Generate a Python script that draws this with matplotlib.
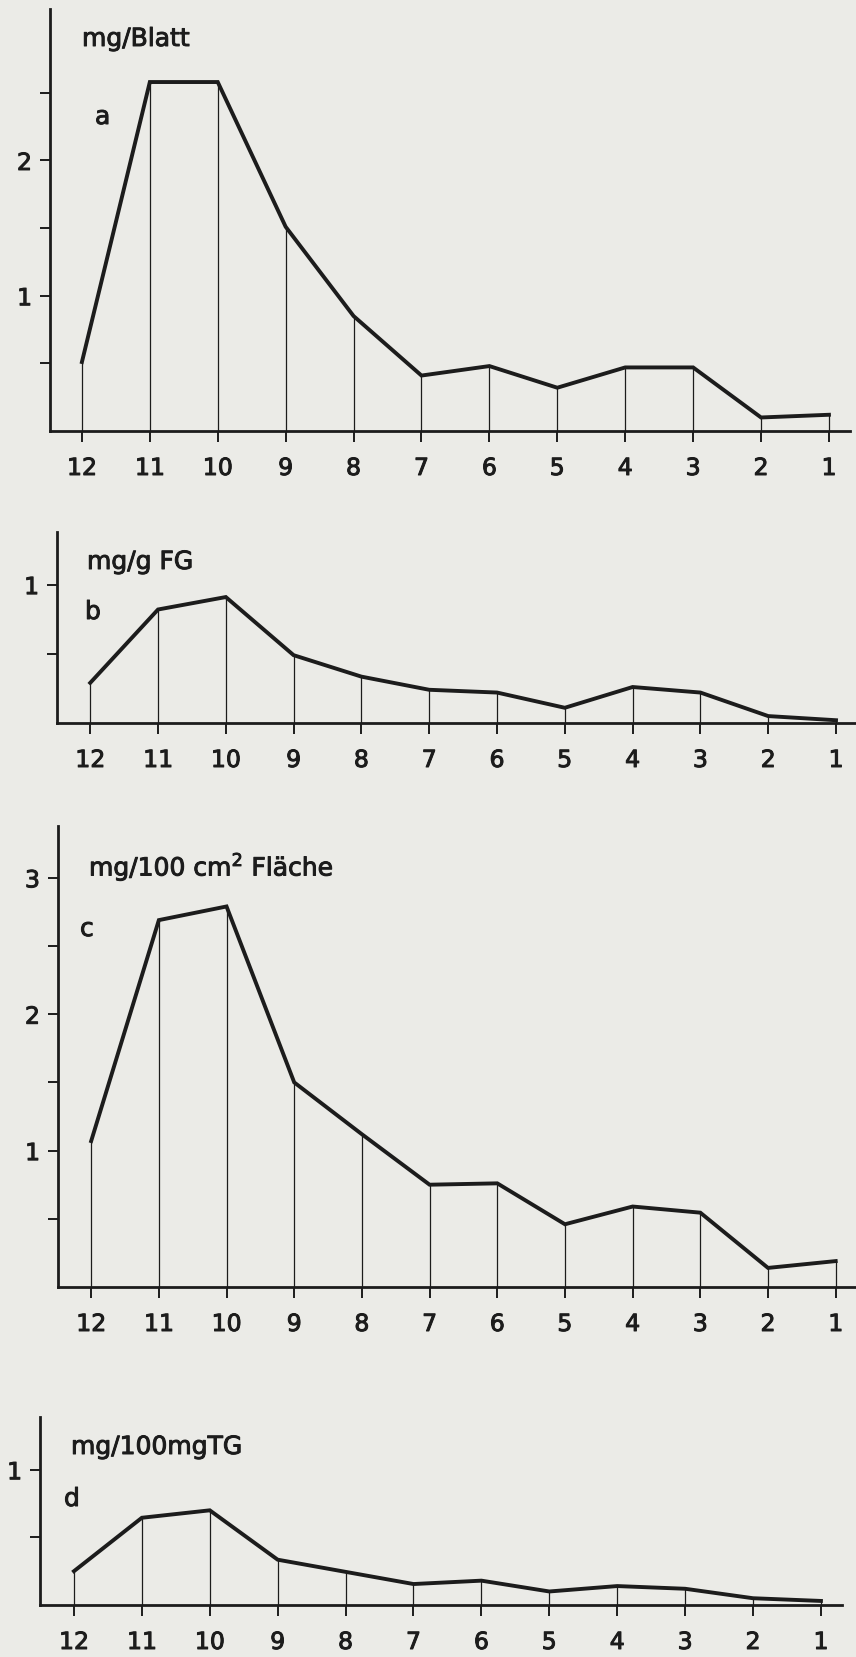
import matplotlib

matplotlib.use('Agg')
import matplotlib.pyplot as plt
import matplotlib.patheffects as pe
import numpy as np

# Blattetagen (12 = juengstes Blatt ... 1 = aeltestes)
stages = ['12', '11', '10', '9', '8', '7', '6', '5', '4', '3', '2', '1']

per_leaf = [0.51, 2.58, 2.58, 1.51, 0.85, 0.41, 0.48, 0.32, 0.47, 0.47, 0.10, 0.12]
per_fresh = [0.29, 0.82, 0.91, 0.49, 0.335, 0.24, 0.22, 0.11, 0.26, 0.22, 0.05, 0.02]
per_area = [1.07, 2.69, 2.79, 1.50, 1.12, 0.75, 0.76, 0.46, 0.59, 0.545, 0.14, 0.19]
per_dry = [0.25, 0.645, 0.70, 0.335, 0.245, 0.155, 0.18, 0.10, 0.14, 0.12, 0.05, 0.03]

units = ['mg/Blatt', 'mg/g FG', 'mg/100 cm$^2$ Fläche', 'mg/100mgTG']
letters = ['a', 'b', 'c', 'd']
ytick_vals = [[0.5, 1, 1.5, 2, 2.5], [0.5, 1], [0.5, 1, 1.5, 2, 2.5, 3], [0.5, 1]]

W, H = 856, 1658
paper = '#ebebe7'
ink = '#1c1c1c'

plt.rcParams['font.family'] = ['DejaVu Sans']
plt.rcParams['mathtext.default'] = 'regular'

fig = plt.figure(figsize=(W / 100, H / 100), dpi=100)
fig.patch.set_facecolor(paper)

# etwas dickere Schrift, wie die Schablonenbeschriftung
thick = [pe.withStroke(linewidth=0.7, foreground=ink)]


def px_axes(left, top, right, bottom):
    return fig.add_axes([left / W, 1 - bottom / H, (right - left) / W, (bottom - top) / H])


# box in pixels (left, top, right, bottom), ymax, xlim, unit-text pos, letter pos
layout = [
    ((50, 10, 850, 432), 3.12, (-0.47, 11.31), (82, 40), (95, 118)),
    ((57, 533, 855, 724), 1.38, (-0.49, 11.28), (87, 563), (85, 613)),
    ((58, 827, 856, 1288), 3.38, (-0.49, 11.30), (89, 868), (80, 930)),
    ((40, 1418, 842, 1606), 1.39, (-0.50, 11.31), (71, 1448), (64, 1500)),
]
series = [per_leaf, per_fresh, per_area, per_dry]

x = np.arange(len(stages))
for vals, (box, ymax, xl, upos, lpos), unit, letter, yt in zip(
        series, layout, units, letters, ytick_vals):
    ax = px_axes(*box)
    ax.set_facecolor('none')
    ax.vlines(x, 0, vals, color=ink, lw=0.9)
    ax.plot(x, vals, color=ink, lw=2.8, solid_joinstyle='miter', clip_on=False)
    ax.set_xlim(*xl)
    ax.set_ylim(0, ymax)

    ax.set_xticks(x, stages)
    ax.set_yticks(yt, [str(int(v)) if v == int(v) else '' for v in yt])

    for s in ['top', 'right']:
        ax.spines[s].set_visible(False)
    for s in ['left', 'bottom']:
        ax.spines[s].set_linewidth(2.0)
        ax.spines[s].set_color(ink)
    ax.tick_params(axis='x', length=8, width=1.4, pad=10, labelsize=17, colors=ink)
    ax.tick_params(axis='y', length=7, width=1.4, pad=6, labelsize=17, colors=ink)
    for lab in ax.get_xticklabels() + ax.get_yticklabels():
        lab.set_path_effects(thick)

    fig.text(upos[0] / W, 1 - upos[1] / H, unit, fontsize=18, color=ink,
             ha='left', va='center', path_effects=thick)
    fig.text(lpos[0] / W, 1 - lpos[1] / H, letter, fontsize=18, color=ink,
             ha='left', va='center', path_effects=thick)

fig.savefig('out.png', dpi=100, facecolor=paper)
